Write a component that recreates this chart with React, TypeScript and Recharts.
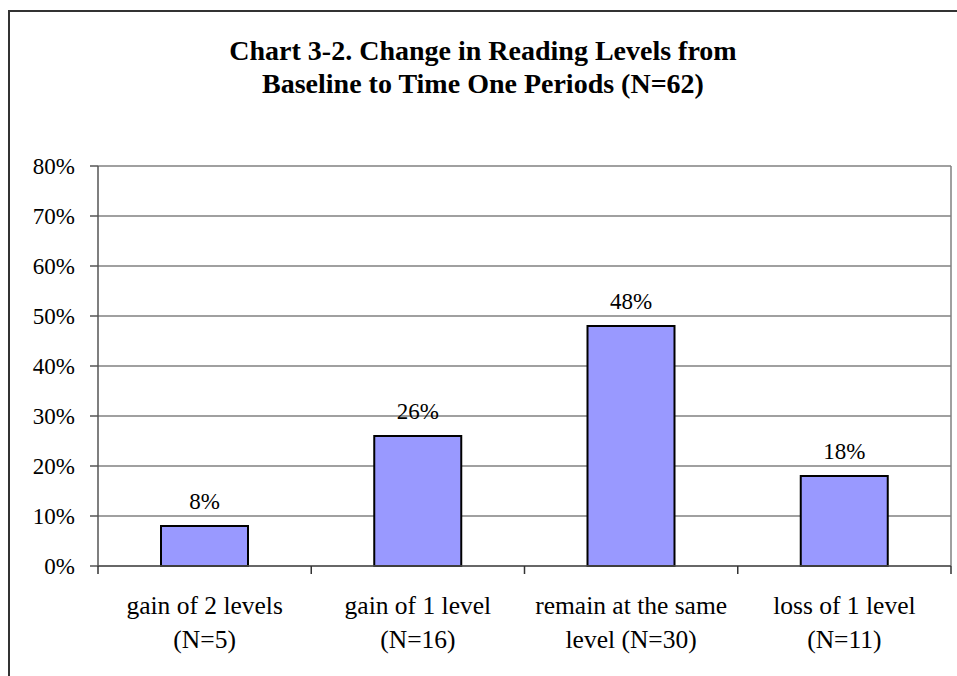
import { BarChart, Bar, XAxis, YAxis, CartesianGrid, LabelList } from 'recharts';

// categories split into two label lines, as in the original chart
const categoryLine1 = ['gain of 2 levels', 'gain of 1 level', 'remain at the same', 'loss of 1 level'];
const categoryLine2 = ['(N=5)', '(N=16)', 'level (N=30)', '(N=11)'];
const percentChange = [8, 26, 48, 18];
const yTicks = [0, 10, 20, 30, 40, 50, 60, 70, 80];

const FONT = '"Liberation Serif", "Times New Roman", serif';

const chartData = categoryLine1.map((name, i) => ({
  name,
  value: percentChange[i],
}));

// two-line category label plus the small tick marks between categories
function CategoryTick(props: any) {
  const { x, y, index, payload, width } = props;
  const half = payload?.offset || (width ? width / categoryLine1.length / 2 : 0);
  const last = index === categoryLine1.length - 1;
  return (
    <g>
      <line x1={x - half} x2={x - half} y1={y} y2={y + 8} stroke="#333" strokeWidth={1.5} />
      {last && <line x1={x + half} x2={x + half} y1={y} y2={y + 8} stroke="#333" strokeWidth={1.5} />}
      <text x={x} y={y} textAnchor="middle" fontFamily={FONT} fontSize={25.5} fill="#000">
        <tspan x={x} dy={48}>{categoryLine1[index]}</tspan>
        <tspan x={x} dy={34}>{categoryLine2[index]}</tspan>
      </text>
    </g>
  );
}

export default function App() {
  return (
    <div style={{ position: 'absolute', left: 0, top: 0, width: 957, height: 676, background: '#fff', overflow: 'hidden' }}>
      {/* outer chart frame */}
      <div
        style={{
          position: 'absolute',
          left: 8,
          top: 10,
          width: 980,
          height: 700,
          borderLeft: '2px solid #333',
          borderTop: '2px solid #333',
        }}
      />
      <div
        style={{
          position: 'absolute',
          left: 0,
          top: 34,
          width: 966,
          textAlign: 'center',
          fontFamily: FONT,
          fontWeight: 700,
          fontSize: 28,
          lineHeight: '33px',
          color: '#000',
        }}
      >
        Chart 3-2. Change in Reading Levels from
        <br />
        Baseline to Time One Periods (N=62)
      </div>
      <BarChart
        width={957}
        height={676}
        data={chartData}
        margin={{ top: 166, right: 6, bottom: 0, left: 0 }}
        style={{ position: 'absolute', left: 0, top: 0 }}
      >
        <CartesianGrid
          stroke="#808080"
          strokeWidth={1.5}
          vertical={true}
          verticalPoints={[951]}
        />
        <XAxis
          dataKey="name"
          height={110}
          axisLine={{ stroke: '#555', strokeWidth: 1.5 }}
          tickLine={false}
          tickSize={0}
          tickMargin={0}
          tick={<CategoryTick />}
          interval={0}
        />
        <YAxis
          domain={[0, 80]}
          ticks={yTicks}
          width={98}
          tickFormatter={(v) => `${v}%`}
          axisLine={{ stroke: '#555', strokeWidth: 1.5 }}
          tickLine={{ stroke: '#555', strokeWidth: 1.5 }}
          tickSize={8}
          tickMargin={15}
          tick={{ fontFamily: FONT, fontSize: 23, fill: '#000' }}
        />
        <Bar
          dataKey="value"
          fill="#9999FF"
          stroke="#000"
          strokeWidth={2}
          barSize={87}
          isAnimationActive={false}
        >
          <LabelList
            dataKey="value"
            position="top"
            offset={17}
            formatter={(v: any) => `${v}%`}
            style={{ fontFamily: FONT, fontSize: 23, fill: '#000' }}
          />
        </Bar>
      </BarChart>
    </div>
  );
}
